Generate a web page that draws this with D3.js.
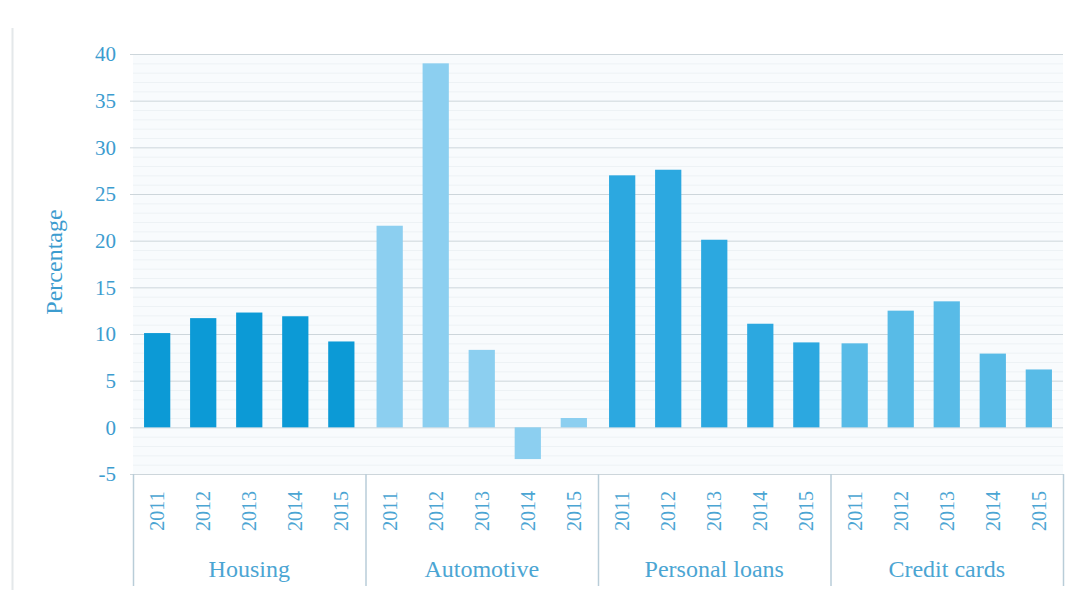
<!DOCTYPE html>
<html><head><meta charset="utf-8">
<script src="https://cdn.jsdelivr.net/npm/d3@7"></script>
<style>body{margin:0;background:#fff}svg{display:block}</style>
</head><body>
<script>
const categories = ["Housing","Automotive","Personal loans","Credit cards"];
const years = ["2011","2012","2013","2014","2015"];
const housing = [10.1, 11.7, 12.3, 11.9, 9.2];
const automotive = [21.6, 39.0, 8.3, -3.4, 1.0];
const personalLoans = [27.0, 27.6, 20.1, 11.1, 9.1];
const creditCards = [9.0, 12.5, 13.5, 7.9, 6.2];
const yTicks = [-5,0,5,10,15,20,25,30,35,40];
const colors = ["#0C9AD6","#8CCFF0","#2CA8E0","#58BBE7"];
const series = [housing, automotive, personalLoans, creditCards];

const W=1089,H=590;
const svg=d3.select("body").append("svg").attr("width",W).attr("height",H);
svg.append("rect").attr("width",W).attr("height",H).attr("fill","#fff");
svg.append("line").attr("x1",12.5).attr("x2",12.5).attr("y1",28).attr("y2",H).attr("stroke","#e4e8ea").attr("stroke-width",2);

const x0=133,x1=1063;
const y=d3.scaleLinear().domain([-5,40]).range([474,54]);
const xc=d3.scaleBand().domain(categories).range([x0,x1]);
const xy=d3.scaleBand().domain(years).range([0,xc.bandwidth()]).paddingInner(0.43).paddingOuter(0.24);

svg.append("rect").attr("x",x0).attr("y",y(40)).attr("width",x1-x0).attr("height",y(-5)-y(40)).attr("fill","#f8fbfd");
const g=svg.append("g");
g.selectAll("line.minor").data(d3.range(-5,41,1).filter(v=>v%5!==0)).join("line")
  .attr("x1",x0).attr("x2",x1).attr("y1",d=>y(d)+0.5).attr("y2",d=>y(d)+0.5)
  .attr("stroke","#edf2f5").attr("stroke-width",1);
g.selectAll("line.major").data(yTicks).join("line")
  .attr("x1",x0-3).attr("x2",x1).attr("y1",d=>y(d)+0.5).attr("y2",d=>y(d)+0.5)
  .attr("stroke","#cdd6db").attr("stroke-width",1);

svg.append("g").selectAll("text").data(yTicks).join("text")
  .attr("x",116).attr("y",d=>y(d)).attr("dy","0.35em").attr("text-anchor","end")
  .attr("font-family","Liberation Serif").attr("font-size",21).attr("fill","#3c9ccf")
  .text(d=>d);
svg.append("text").attr("transform",`translate(62,262) rotate(-90)`).attr("text-anchor","middle")
  .attr("font-family","Liberation Serif").attr("font-size",24).attr("fill","#3c9ccf").text("Percentage");

categories.forEach((c,i)=>{
  svg.append("g").selectAll("rect").data(series[i]).join("rect")
    .attr("x",(d,j)=>xc(c)+xy(years[j])).attr("width",xy.bandwidth())
    .attr("y",d=>y(Math.max(0,d))).attr("height",d=>Math.abs(y(d)-y(0)))
    .attr("fill",colors[i]);
});

const seps=categories.map(c=>xc(c)).concat([x1]);
svg.append("g").selectAll("line").data(seps).join("line")
  .attr("x1",d=>d+0.5).attr("x2",d=>d+0.5).attr("y1",474).attr("y2",586)
  .attr("stroke","#b9cdd8").attr("stroke-width",1.5);
categories.forEach(c=>{
  svg.append("g").selectAll("text").data(years).join("text")
    .attr("transform",yr=>`translate(${xc(c)+xy(yr)+xy.bandwidth()/2},511) rotate(-90)`)
    .attr("text-anchor","middle").attr("dy","0.35em")
    .attr("font-family","Liberation Serif").attr("font-size",20).attr("fill","#4ba5d3").text(d=>d);
});
svg.append("g").selectAll("text").data(categories).join("text")
  .attr("x",c=>xc(c)+xc.bandwidth()/2).attr("y",577).attr("text-anchor","middle")
  .attr("font-family","Liberation Serif").attr("font-size",24).attr("fill","#4ba5d3").text(d=>d);
</script>
</body></html>
